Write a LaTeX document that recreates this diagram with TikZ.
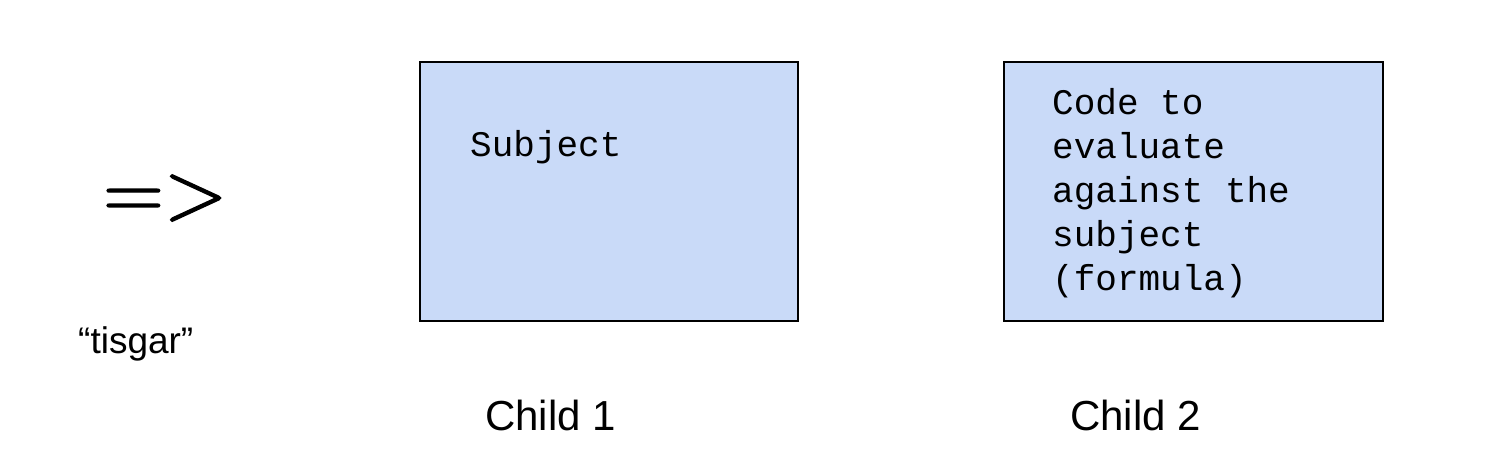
\documentclass[tikz,border=0pt]{standalone}
\usepackage{fontspec}
\setmainfont{Liberation Sans}
\newfontfamily\monof{Liberation Mono}
\newfontfamily\lmrom[FakeBold=1.5]{Latin Modern Roman}
\definecolor{boxblue}{HTML}{C9DAF8}
\tikzset{
  childbox/.style={draw=black, line width=2pt, fill=boxblue, anchor=north west, inner sep=0pt},
  monotext/.style={font=\monof\fontsize{36}{44}\selectfont, anchor=base west, inner sep=0pt, align=left},
  labeltext/.style={font=\fontsize{42}{48}\selectfont, anchor=base west, inner sep=0pt},
}
\begin{document}
\begin{tikzpicture}[x=1pt,y=-1pt]
\useasboundingbox (0,0) rectangle (1494,470);
\fill[white] (0,0) rectangle (1494,470);
% boxes
\node[childbox, minimum width=378pt, minimum height=259pt] (box1) at (419,61) {};
\node[childbox, minimum width=379pt, minimum height=259pt] (box2) at (1003,61) {};
% box texts
\node[monotext] (subj) at (470,157) {Subject};
\node[monotext] (l1) at (1052,115) {Code to};
\node[monotext] (l2) at (1052,159) {evaluate};
\node[monotext] (l3) at (1052,203) {against the};
\node[monotext] (l4) at (1052,247) {subject};
\node[monotext] (l5) at (1052,291) {(formula)};
% arrow symbol
\node[font=\lmrom\fontsize{84}{84}\selectfont, anchor=base west, inner sep=0pt] (arrow) at (103,219) {=>};
\node[font=\fontsize{37}{42}\selectfont, anchor=base west, inner sep=0pt] (name) at (78,353) {“tisgar”};
% labels
\node[labeltext] (c1) at (485,430) {Child 1};
\node[labeltext] (c2) at (1070,430) {Child 2};
\end{tikzpicture}
\end{document}
